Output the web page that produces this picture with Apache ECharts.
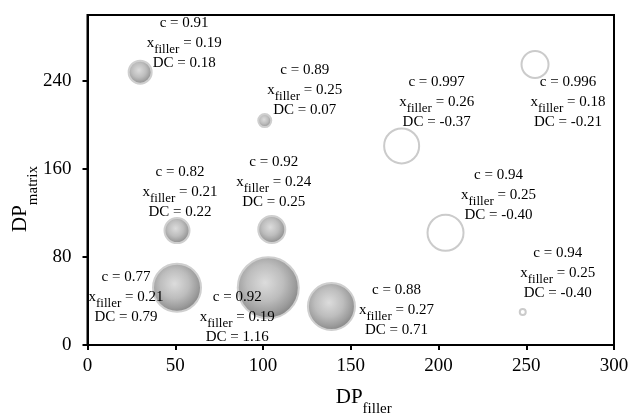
<!DOCTYPE html>
<html>
<head>
<meta charset="utf-8">
<script src="https://cdn.jsdelivr.net/npm/echarts@6/dist/echarts.min.js"></script>
<style>html,body{margin:0;padding:0;background:#fff;}#main{width:634px;height:418px;}</style>
</head>
<body>
<div id="main"></div>
<script>
// Data
const dpFiller = [30, 101, 51, 105, 51, 103, 139, 179, 255, 204, 248];
const dpMatrix = [248, 204, 104, 105, 52, 52, 35, 181, 255, 102, 30];
const cValues = ['0.91', '0.89', '0.82', '0.92', '0.77', '0.92', '0.88', '0.997', '0.996', '0.94', '0.94'];
const xFillerValues = ['0.19', '0.25', '0.21', '0.24', '0.21', '0.19', '0.27', '0.26', '0.18', '0.25', '0.25'];
const dcValues = ['0.18', '0.07', '0.22', '0.25', '0.79', '1.16', '0.71', '-0.37', '-0.21', '-0.40', '-0.40'];
const bubbleSize = [23, 13, 25, 27, 48, 61, 47, 35, 27, 36, 6];
const xTicks = [0, 50, 100, 150, 200, 250, 300];
const yTicks = [0, 80, 160, 240];

// label placement (style)
const labelOffsets = [[44,-29],[40,-31],[3,-39],[2,-47],[-51,9],[-31,29],[65,4],[35,-44],[33,38],[53,-38],[35,-39]];

const serif = '"Liberation Serif", "Times New Roman", serif';

const filledStyle = {
  opacity: 1,
  color: {
    type: 'radial', x: 0.45, y: 0.42, r: 0.58,
    colorStops: [
      {offset: 0, color: '#dcdcdc'},
      {offset: 0.5, color: '#bdbdbd'},
      {offset: 0.82, color: '#9c9c9c'},
      {offset: 1, color: '#858585'}
    ]
  },
  borderColor: '#cfcfcf',
  borderWidth: 2
};
const hollowStyle = {opacity: 1, color: '#ffffff', borderColor: '#cbcbcb', borderWidth: 2};

const data = dpFiller.map((x, i) => ({
  value: [x, dpMatrix[i], bubbleSize[i]],
  itemStyle: parseFloat(dcValues[i]) >= 0 ? filledStyle : hollowStyle,
  label: {
    offset: labelOffsets[i],
    formatter: '{n|c = ' + cValues[i] + '}\n{n|x}{s|filler}{n| = ' + xFillerValues[i] + '}\n{n|DC = ' + dcValues[i] + '}'
  }
}));

const chart = echarts.init(document.getElementById('main'), null, {renderer: 'canvas'});
chart.setOption({
  animation: false,
  backgroundColor: '#fff',
  grid: {left: 87.5, right: 20, top: 15, bottom: 73, show: true, borderColor: '#000', borderWidth: 2,
         containLabel: false, outerBoundsMode: 'none'},
  xAxis: {
    type: 'value', min: xTicks[0], max: xTicks[xTicks.length - 1], interval: 50,
    name: '{a|DP}{b|filler}', nameLocation: 'middle', nameGap: 40, nameMoveOverlap: false,
    nameTextStyle: {padding: [0, 0, 0, 26], rich: {
      a: {fontFamily: serif, fontSize: 21, color: '#000', lineHeight: 24},
      b: {fontFamily: serif, fontSize: 15, color: '#000', lineHeight: 15, verticalAlign: 'bottom', padding: [0,0,-8,0]}
    }},
    axisLine: {show: true, lineStyle: {color: '#000', width: 2}},
    axisTick: {show: true, length: 5, lineStyle: {color: '#000', width: 2}},
    axisLabel: {color: '#000', fontFamily: serif, fontSize: 19, margin: 12},
    splitLine: {show: false}
  },
  yAxis: {
    type: 'value', min: yTicks[0], max: 300, interval: 80,
    name: '{a|DP}{b|matrix}', nameLocation: 'middle', nameGap: 55, nameRotate: 90, nameMoveOverlap: false,
    nameTextStyle: {padding: [0, 0, 0, -38], rich: {
      a: {fontFamily: serif, fontSize: 21, color: '#000', lineHeight: 24},
      b: {fontFamily: serif, fontSize: 15, color: '#000', lineHeight: 15, verticalAlign: 'bottom', padding: [0,0,-8,0]}
    }},
    axisLine: {show: true, lineStyle: {color: '#000', width: 2}},
    axisTick: {show: true, length: 5, lineStyle: {color: '#000', width: 2}},
    axisLabel: {color: '#000', fontFamily: serif, fontSize: 19, margin: 16, showMaxLabel: false},
    splitLine: {show: false}
  },
  series: [{
    type: 'scatter',
    symbol: 'circle',
    symbolSize: v => v[2],
    itemStyle: {opacity: 1},
    data: data,
    label: {
      show: true, position: 'inside', align: 'center', verticalAlign: 'middle', opacity: 1,
      rich: {
        n: {fontFamily: serif, fontSize: 15, color: '#000', lineHeight: 20},
        s: {fontFamily: serif, fontSize: 13, color: '#000', lineHeight: 13, verticalAlign: 'bottom', padding: [0,0,-3,0]}
      }
    },
    emphasis: {disabled: true}
  }]
});
</script>
</body>
</html>
